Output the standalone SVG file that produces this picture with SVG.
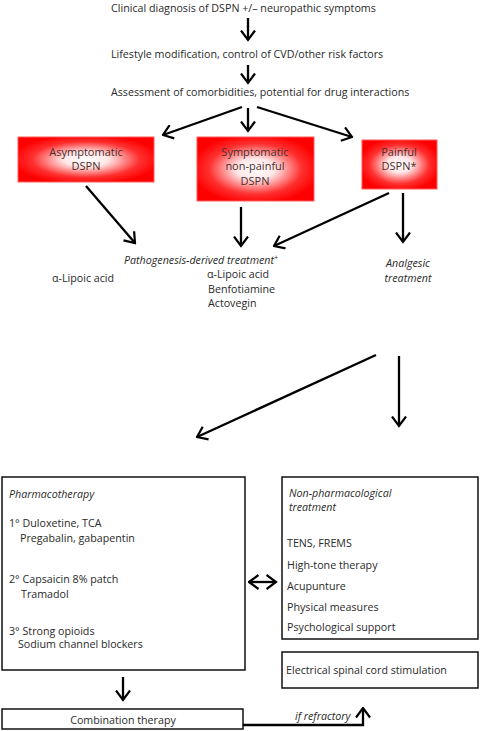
<svg xmlns="http://www.w3.org/2000/svg" width="480" height="731" viewBox="0 0 480 731">
<defs>
<style>
text{font-family:"Open Sans","Noto Sans","Liberation Sans",sans-serif;font-size:10.7px;fill:#2a2a2a}
.it{font-style:italic}
.rb text{font-size:11px;fill:#4a2e2e;text-anchor:middle}
.red{fill:url(#rg);stroke:#ff5a5a;stroke-width:1}
.box{fill:#fff;stroke:#111;stroke-width:1.5}
.c line,.c polyline{stroke:#000;stroke-width:2.3;fill:none;marker-end:url(#ah)}
</style>
<radialGradient id="rg" cx="50%" cy="50%" r="55%">
<stop offset="0" stop-color="#ffffff"/>
<stop offset="0.3" stop-color="#ffe6e6"/>
<stop offset="0.72" stop-color="#ff3030"/>
<stop offset="1" stop-color="#ff0000"/>
</radialGradient>
<marker id="ah" viewBox="0 0 12 16" refX="10.5" refY="8" markerWidth="12" markerHeight="16" markerUnits="userSpaceOnUse" orient="auto-start-reverse">
<path d="M1,1 L10.5,8 L1,15" fill="none" stroke="#000" stroke-width="2.2"/>
</marker>
</defs>
<rect width="480" height="731" fill="#fff"/>

<g id="n-clinical"><text x="111" y="12">Clinical diagnosis of DSPN +/– neuropathic symptoms</text></g>
<g id="n-lifestyle"><text x="111" y="58">Lifestyle modification, control of CVD/other risk factors</text></g>
<g id="n-assessment"><text x="111" y="96">Assessment of comorbidities, potential for drug interactions</text></g>

<g id="n-asym" class="rb"><rect class="red" x="18" y="137" width="136" height="45"/><text x="86" y="156">Asymptomatic</text><text x="86" y="170">DSPN</text></g>
<g id="n-sym" class="rb"><rect class="red" x="197" y="137" width="117" height="64"/><text x="255" y="156">Symptomatic</text><text x="255" y="170">non-painful</text><text x="255" y="185">DSPN</text></g>
<g id="n-painful" class="rb"><rect class="red" x="362" y="140" width="75" height="49"/><text x="399" y="156">Painful</text><text x="399" y="170">DSPN*</text></g>

<g id="n-patho"><text class="it" x="124" y="264">Pathogenesis-derived treatment<tspan font-size="7" dy="-4">+</tspan></text></g>
<g id="n-alpha1"><text x="52" y="282">α-Lipoic acid</text></g>
<g id="n-alpha2"><text x="207" y="278">α-Lipoic acid</text><text x="208" y="293">Benfotiamine</text><text x="208" y="307">Actovegin</text></g>
<g id="n-analgesic"><text class="it" x="408" y="267" text-anchor="middle">Analgesic</text><text class="it" x="408" y="282" text-anchor="middle">treatment</text></g>

<g id="n-pharma"><rect class="box" x="2" y="477" width="243" height="193"/>
<text class="it" x="9" y="498">Pharmacotherapy</text>
<text x="9" y="527">1° Duloxetine, TCA</text>
<text x="20" y="542">Pregabalin, gabapentin</text>
<text x="9" y="583">2° Capsaicin 8% patch</text>
<text x="21" y="598">Tramadol</text>
<text x="9" y="635">3° Strong opioids</text>
<text x="18" y="648">Sodium channel blockers</text>
</g>
<g id="n-nonpharma"><rect class="box" x="282" y="477" width="196" height="162"/>
<text class="it" x="289" y="497">Non-pharmacological</text>
<text class="it" x="289" y="511">treatment</text>
<text x="287" y="547">TENS, FREMS</text>
<text x="287" y="569">High-tone therapy</text>
<text x="287" y="590">Acupunture</text>
<text x="287" y="611">Physical measures</text>
<text x="287" y="631">Psychological support</text>
</g>
<g id="n-spinal"><rect class="box" x="282" y="652" width="196" height="36"/><text x="286" y="674">Electrical spinal cord stimulation</text></g>
<g id="n-combo"><rect class="box" x="2" y="709" width="241" height="20"/><text x="123" y="724" text-anchor="middle">Combination therapy</text></g>
<g id="n-refractory"><text class="it" x="295" y="720">if refractory</text></g>

<g id="connectors" class="c">
<line x1="248" y1="18" x2="248" y2="40"/>
<line x1="248" y1="65" x2="248" y2="83"/>
<line x1="242" y1="107" x2="163" y2="135"/>
<line x1="248" y1="108" x2="248" y2="131"/>
<line x1="257" y1="107" x2="352" y2="137"/>
<line x1="86" y1="186" x2="135" y2="243"/>
<line x1="241" y1="207" x2="241" y2="246"/>
<line x1="389" y1="193" x2="274" y2="246"/>
<line x1="403" y1="193" x2="403" y2="242"/>
<line x1="376" y1="355" x2="197" y2="437"/>
<line x1="399" y1="356" x2="399" y2="426"/>
<line x1="249" y1="582" x2="276" y2="582" marker-start="url(#ah)"/>
<line x1="123" y1="677" x2="123" y2="700"/>
<polyline points="243,725 363,725 363,708"/>
</g>
</svg>
